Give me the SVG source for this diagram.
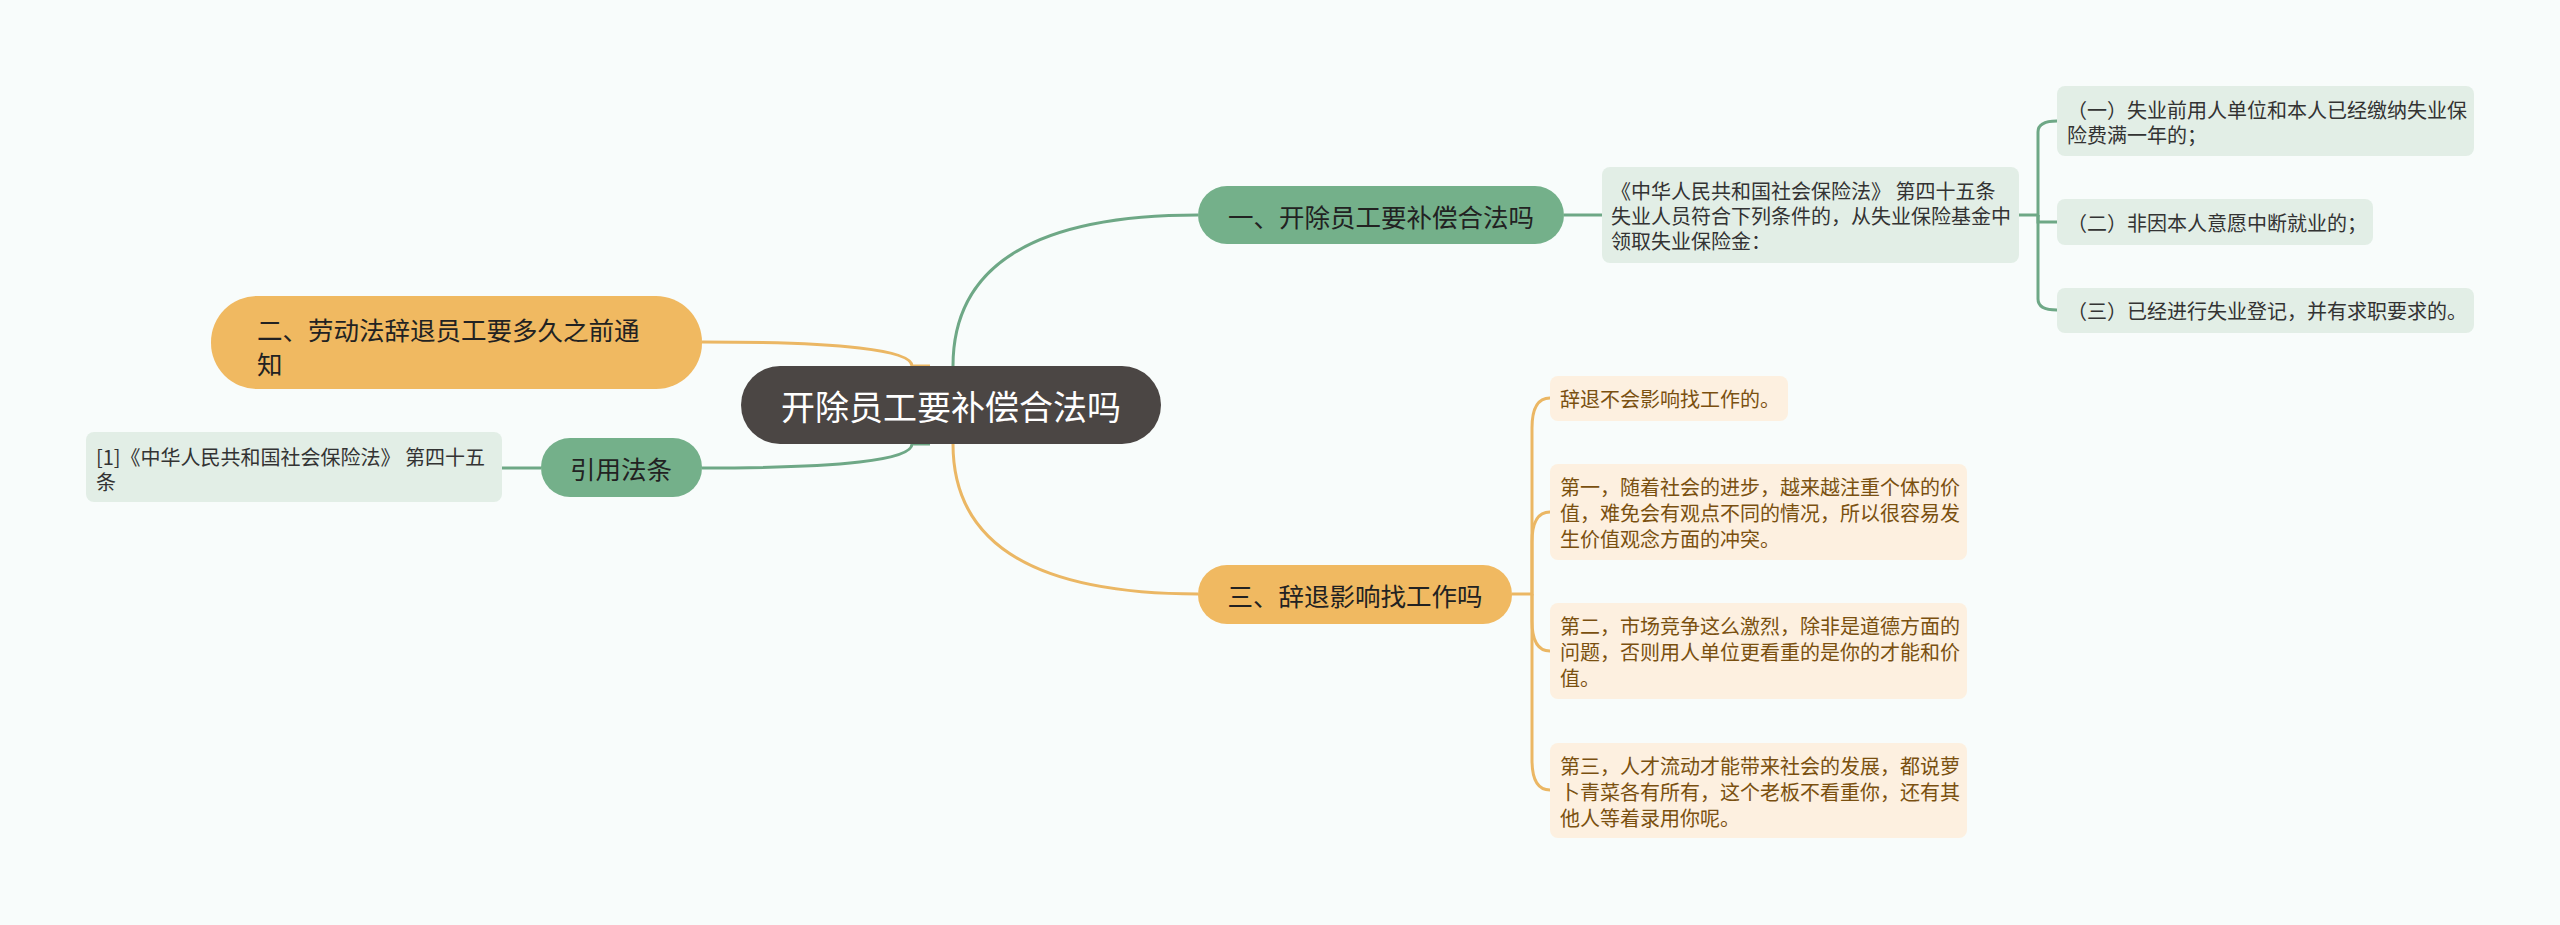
<svg xmlns="http://www.w3.org/2000/svg" width="2560" height="925" viewBox="0 0 2560 925">
<style>
text{font-family:"Noto Sans CJK SC","Noto Sans",sans-serif;dominant-baseline:central}
.cg{fill:none;stroke:#6ea886;stroke-width:3}
.co{fill:none;stroke:#ebb764;stroke-width:3}
.ng{fill:#74b08a}
.no{fill:#f0b961}
.lg{fill:#e2eee6}
.lo{fill:#fdf0e0}
.tn{font-size:25.5px;fill:#222}
.tlg{font-size:20px;fill:#333}
.tlo{font-size:20px;fill:#7a5010}
</style>
<rect width="2560" height="925" fill="#f8fcfb"/>
<g id="connectors">
<path class="cg" d="M953,380 L953,366 Q953,215 1198,215"/>
<path class="co" d="M953,430 L953,444 Q953,594 1198,594"/>
<path class="co" d="M930,366 L912,366 Q912,342 702,342"/>
<path class="cg" d="M930,444 L912,444 Q912,468 702,468"/>
<path class="cg" d="M541,468 H502"/>
<path class="cg" d="M1564,215 H1602"/>
<path class="cg" d="M2019,215 H2038 V132 Q2038,121 2057,121"/>
<path class="cg" d="M2038,215 V222 H2057"/>
<path class="cg" d="M2038,215 V299 Q2038,310 2057,310"/>
<path class="co" d="M1512,594 H1532 V428 Q1532,398 1550,398"/>
<path class="co" d="M1532,594 V542 Q1532,512 1550,512"/>
<path class="co" d="M1532,594 V621 Q1532,651 1550,651"/>
<path class="co" d="M1532,594 V760 Q1532,790 1550,790"/>
</g>
<g id="root">
<rect x="741" y="366" width="420" height="78" rx="39" fill="#4b4644"/>
<text x="951" y="405" text-anchor="middle" font-size="34" fill="#fff">开除员工要补偿合法吗</text>
</g>
<g id="n1">
<rect class="ng" x="1198" y="186" width="366" height="58" rx="29"/>
<text class="tn" x="1381" y="215" text-anchor="middle">一、开除员工要补偿合法吗</text>
</g>
<g id="n1-law">
<rect class="lg" x="1602" y="167" width="417" height="96" rx="8"/>
<text class="tlg" x="1611" y="190">《中华人民共和国社会保险法》 第四十五条</text>
<text class="tlg" x="1611" y="215">失业人员符合下列条件的，从失业保险基金中</text>
<text class="tlg" x="1611" y="240">领取失业保险金：</text>
</g>
<g id="n1-1">
<rect class="lg" x="2057" y="86" width="417" height="70" rx="8"/>
<text class="tlg" x="2067" y="109">（一）失业前用人单位和本人已经缴纳失业保</text>
<text class="tlg" x="2067" y="134">险费满一年的；</text>
</g>
<g id="n1-2">
<rect class="lg" x="2057" y="199" width="316" height="46" rx="8"/>
<text class="tlg" x="2067" y="222">（二）非因本人意愿中断就业的；</text>
</g>
<g id="n1-3">
<rect class="lg" x="2057" y="288" width="417" height="45" rx="8"/>
<text class="tlg" x="2067" y="310">（三）已经进行失业登记，并有求职要求的。</text>
</g>
<g id="n2">
<rect class="no" x="211" y="296" width="491" height="93" rx="46"/>
<text class="tn" x="257" y="328">二、劳动法辞退员工要多久之前通</text>
<text class="tn" x="257" y="362">知</text>
</g>
<g id="ref">
<rect class="ng" x="541" y="438" width="161" height="59" rx="29"/>
<text class="tn" x="621" y="467" text-anchor="middle">引用法条</text>
</g>
<g id="ref-1">
<rect class="lg" x="86" y="432" width="416" height="70" rx="8"/>
<text class="tlg" x="96" y="456">[1]《中华人民共和国社会保险法》 第四十五</text>
<text class="tlg" x="96" y="481">条</text>
</g>
<g id="n3">
<rect class="no" x="1198" y="565" width="314" height="59" rx="29"/>
<text class="tn" x="1355" y="594" text-anchor="middle">三、辞退影响找工作吗</text>
</g>
<g id="n3-a">
<rect class="lo" x="1550" y="376" width="238" height="45" rx="8"/>
<text class="tlo" x="1560" y="398">辞退不会影响找工作的。</text>
</g>
<g id="n3-b">
<rect class="lo" x="1550" y="464" width="417" height="96" rx="8"/>
<text class="tlo" x="1560" y="486">第一，随着社会的进步，越来越注重个体的价</text>
<text class="tlo" x="1560" y="512">值，难免会有观点不同的情况，所以很容易发</text>
<text class="tlo" x="1560" y="538">生价值观念方面的冲突。</text>
</g>
<g id="n3-c">
<rect class="lo" x="1550" y="603" width="417" height="96" rx="8"/>
<text class="tlo" x="1560" y="625">第二，市场竞争这么激烈，除非是道德方面的</text>
<text class="tlo" x="1560" y="651">问题，否则用人单位更看重的是你的才能和价</text>
<text class="tlo" x="1560" y="677">值。</text>
</g>
<g id="n3-d">
<rect class="lo" x="1550" y="743" width="417" height="95" rx="8"/>
<text class="tlo" x="1560" y="765">第三，人才流动才能带来社会的发展，都说萝</text>
<text class="tlo" x="1560" y="791">卜青菜各有所有，这个老板不看重你，还有其</text>
<text class="tlo" x="1560" y="817">他人等着录用你呢。</text>
</g>
</svg>
